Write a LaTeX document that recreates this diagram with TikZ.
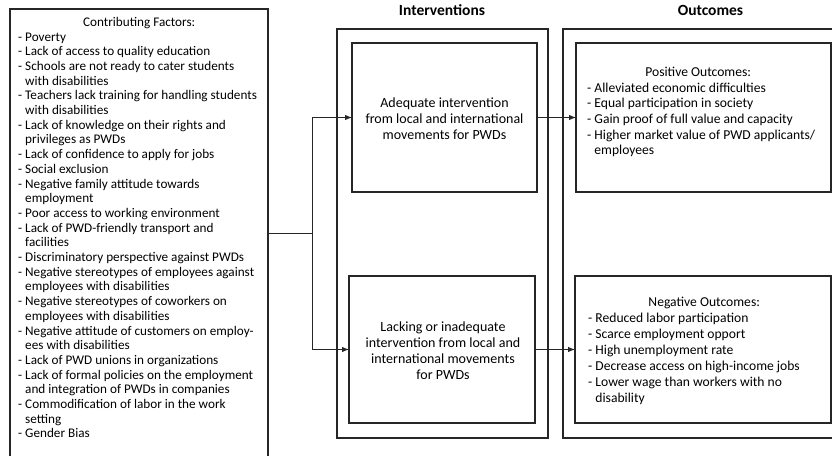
\documentclass[tikz,border=0pt]{standalone}
\usepackage{fontspec}
\setmainfont{Carlito}
\usetikzlibrary{arrows.meta}
\newcommand\myind{\hphantom{- }}
\begin{document}
\begin{tikzpicture}[x=1pt,y=-1pt,
  box/.style={draw=black!85,line width=1.4pt,inner sep=0pt,outer sep=0pt},
  conn/.style={draw=black!85,line width=0.9pt},
  arr/.style={conn,-{Latex[length=7pt,width=5.5pt]}},
  ltxt/.style={inner sep=0pt,align=left,anchor=north west},
  ctxt/.style={inner sep=0pt,align=center,font=\fontsize{14}{16}\selectfont},
  ttl/.style={inner sep=0pt,font=\bfseries\fontsize{15.5}{18}\selectfont}]
\useasboundingbox (0,0) rectangle (832,455);
\clip (0,0) rectangle (832,455);
% boxes
\node[box,minimum width=258pt,minimum height=448pt] (factors) at (139,233) {};
\node[box,minimum width=211pt,minimum height=409pt] (intv) at (442.5,233.5) {};
\node[box,minimum width=185pt,minimum height=149pt] (adequate) at (444.5,117.5) {};
\node[box,minimum width=186pt,minimum height=147pt] (lacking) at (442,349.5) {};
\node[box,minimum width=287pt,minimum height=409pt] (outc) at (706.5,233.5) {};
\node[box,minimum width=255pt,minimum height=149pt] (positive) at (703.5,117.5) {};
\node[box,minimum width=256pt,minimum height=147pt] (negative) at (703,349.5) {};
% titles
\node[ttl] (tint) at (442,10) {Interventions};
\node[ttl] (tout) at (710.5,10) {Outcomes};
% texts
\node[ltxt,font=\fontsize{13.2}{14.7}\selectfont] (tfac) at (18,17) {%
\makebox[242pt][c]{Contributing Factors:}\\
- Poverty\\
- Lack of access to quality education\\
- Schools are not ready to cater students\\
\myind with disabilities\\
- Teachers lack training for handling students\\
\myind with disabilities\\
- Lack of knowledge on their rights and\\
\myind privileges as PWDs\\
- Lack of confidence to apply for jobs\\
- Social exclusion\\
- Negative family attitude towards\\
\myind employment\\
- Poor access to working environment\\
- Lack of PWD-friendly transport and\\
\myind facilities\\
- Discriminatory perspective against PWDs\\
- Negative stereotypes of employees against\\
\myind employees with disabilities\\
- Negative stereotypes of coworkers on\\
\myind employees with disabilities\\
- Negative attitude of customers on employ-\\
\myind ees with disabilities\\
- Lack of PWD unions in organizations\\
- Lack of formal policies on the employment\\
\myind and integration of PWDs in companies\\
- Commodification of labor in the work\\
\myind setting\\
- Gender Bias};
\node[ctxt] (tadeq) at (444.5,119) {Adequate intervention\\from local and international\\movements for PWDs};
\node[ctxt] (tlack) at (443,351) {Lacking or inadequate\\intervention from local and\\international movements\\for PWDs};
\node[ltxt,font=\fontsize{13.6}{15.6}\selectfont] (tpos) at (587,67) {%
\makebox[222pt][c]{Positive Outcomes:}\\
- Alleviated economic difficulties\\
- Equal participation in society\\
- Gain proof of full value and capacity\\
- Higher market value of PWD applicants/\\
\myind employees};
\node[ltxt,font=\fontsize{13.6}{16}\selectfont] (tneg) at (588,297) {%
\makebox[232pt][c]{Negative Outcomes:}\\
- Reduced labor participation\\
- Scarce employment opport\\
- High unemployment rate\\
- Decrease access on high-income jobs\\
- Lower wage than workers with no\\
\myind disability};
% connectors
\coordinate (j) at (312,233);
\draw[conn] (factors.east) -- (j);
\draw[arr] (j) |- (adequate.west);
\draw[arr] (j) |- (lacking.west);
\draw[arr] (adequate.east) -- (positive.west);
\draw[arr] (lacking.east) -- (negative.west);
\end{tikzpicture}
\end{document}
